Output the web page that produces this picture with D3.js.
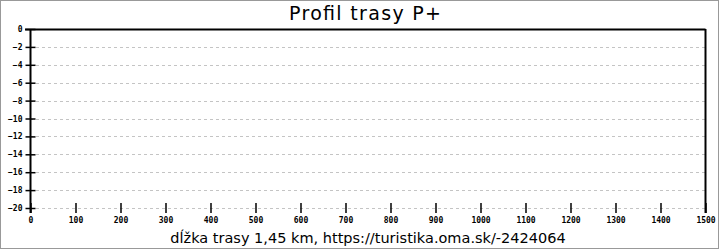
<!DOCTYPE html>
<html><head><meta charset="utf-8">
<script src="https://cdn.jsdelivr.net/npm/d3@7"></script>
<style>body{margin:0;background:#fff}svg{display:block}</style>
</head><body>
<svg id="c" width="720" height="250"></svg>
<script>
const title = "Profil trasy P+";
const footer = "dĺžka trasy 1,45 km, https://turistika.oma.sk/-2424064";
const distance = [];      // m (no profile data drawn)
const elevation = [];     // m
const xTicks = [0,100,200,300,400,500,600,700,800,900,1000,1100,1200,1300,1400,1500];
const yTicks = [0,-2,-4,-6,-8,-10,-12,-14,-16,-18,-20];

const svg = d3.select("#c");
const L = 30, R = 705, T = 29, B = 208;
const x = d3.scaleLinear().domain([0,1500]).range([L,R]);
const y = d3.scaleLinear().domain([-20,0]).range([B,T]);

svg.append("rect").attr("x",0.5).attr("y",0.5).attr("width",718).attr("height",248)
  .attr("fill","#fff").attr("stroke","#999");

svg.append("g").selectAll("line").data(yTicks.filter(d=>d!==0)).join("line")
  .attr("x1",L).attr("x2",R).attr("y1",d=>Math.round(y(d))+0.5).attr("y2",d=>Math.round(y(d))+0.5)
  .attr("stroke","#c4c4c4").attr("stroke-dasharray","3,3");

svg.append("line").attr("x1",L-5).attr("x2",R+0.5).attr("y1",T+0.5).attr("y2",T+0.5).attr("stroke","#000").attr("stroke-width",2);
svg.append("line").attr("x1",L+0.5).attr("x2",L+0.5).attr("y1",T).attr("y2",B+5).attr("stroke","#000").attr("stroke-width",2);
svg.append("line").attr("x1",R+0.5).attr("x2",R+0.5).attr("y1",T).attr("y2",B+5).attr("stroke","#000").attr("stroke-width",2);

const yAxis = d3.axisLeft(y).tickValues(yTicks).tickSize(5).tickPadding(5).tickFormat(d=>d===0?"0":"−"+Math.abs(d));
const ga = svg.append("g").attr("transform",`translate(${L+5.5},0)`).call(yAxis);
ga.select(".domain").remove();
ga.selectAll(".tick line").attr("x2",-10).attr("stroke","#000").attr("stroke-width",1.5);
ga.selectAll(".tick text").attr("x",-13).attr("font-family","DejaVu Sans Mono, monospace").attr("font-size",8).attr("font-weight","bold").attr("fill","#000");

const xAxis = d3.axisBottom(x).tickValues(xTicks).tickSize(5).tickPadding(6).tickFormat(d3.format("d"));
const gx = svg.append("g").attr("transform",`translate(0.5,${B-5})`).call(xAxis);
gx.select(".domain").remove();
gx.selectAll(".tick line").attr("y2",10).attr("stroke","#000").attr("stroke-width",1.5);
gx.selectAll(".tick text").attr("y",14).attr("font-family","DejaVu Sans Mono, monospace").attr("font-size",8).attr("font-weight","bold").attr("fill","#000");

svg.append("text").attr("x",365).attr("y",20).attr("text-anchor","middle")
  .attr("font-family","DejaVu Sans").attr("font-size",19).attr("fill","#000")
  .attr("textLength",152).attr("lengthAdjust","spacing").text(title);
svg.append("text").attr("x",368).attr("y",243).attr("text-anchor","middle")
  .attr("font-family","DejaVu Sans").attr("font-size",14.5).attr("fill","#000").text(footer);
</script>
</body></html>
